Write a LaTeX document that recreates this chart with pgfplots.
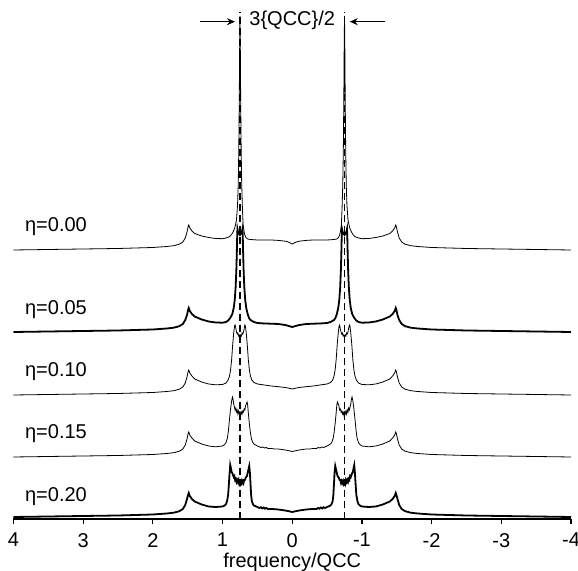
\documentclass[border=0pt]{standalone}
\usepackage{fontspec}
\setmainfont{Liberation Sans}
\usepackage{pgfplots}
\pgfplotsset{compat=1.18}
\usetikzlibrary{arrows.meta}
\begin{document}
\begin{tikzpicture}
\begin{axis}[
  scale only axis, width=278.75pt, height=259.5pt,
  xmin=-4, xmax=4, x dir=reverse, ymin=0, ymax=519,
  axis x line=bottom, axis y line=none,
  x axis line style={-, line width=0.8pt, black},
  xtick={-4,-3,...,4}, ytick=\empty,
  tick align=outside, major tick length=2.5pt,
  tick style={line width=0.6pt, black},
  xlabel={frequency/QCC},
  x label style={at={(axis description cs:0.5,0)}, anchor=base, yshift=-24.5pt},
  tick label style={font=\fontsize{10}{12}\selectfont, yshift=-1pt},
  label style={font=\fontsize{10}{12}\selectfont},
  /pgf/number format/assume math mode=true,
  clip=false,
  cycle list={{black, line width=0.9pt, no markers}},
]
% eta = 0.00
\addplot coordinates {
(4,269) (3,270) (2.5,270.5) (2,271.5) (1.8,272.5) (1.7,273.3) (1.62,274.8) (1.57,277) (1.535,281) (1.51,287) (1.495,292) (1.485,294) (1.47,291) (1.44,288) (1.4,285.5) (1.3,283) (1.2,281.5) (1.1,280.5) (1.0,280.3) (0.95,281) (0.9,282.3) (0.87,284.5) (0.85,287) (0.825,291) (0.8,299) (0.785,314) (0.775,334) (0.767,369) (0.76,419) (0.755,469) (0.75,503) (0.745,469) (0.74,419) (0.733,369) (0.725,334) (0.715,311) (0.705,294) (0.69,287) (0.68,284) (0.665,281.5) (0.64,280) (0.6,279.5) (0.5,279) (0.4,279) (0.3,279) (0.2,278.6) (0.1,277.8) (0.05,276.8) (0,275)
(-0.05,276.8) (-0.1,277.8) (-0.2,278.6) (-0.3,279) (-0.4,279) (-0.5,279) (-0.6,279.5) (-0.64,280) (-0.665,281.5) (-0.68,284) (-0.69,287) (-0.705,294) (-0.715,311) (-0.725,334) (-0.733,369) (-0.74,419) (-0.745,469) (-0.75,503) (-0.755,469) (-0.76,419) (-0.767,369) (-0.775,334) (-0.785,314) (-0.8,299) (-0.825,291) (-0.85,287) (-0.87,284.5) (-0.9,282.3) (-0.95,281) (-1.0,280.3) (-1.1,280.5) (-1.2,281.5) (-1.3,283) (-1.4,285.5) (-1.44,288) (-1.47,291) (-1.485,294) (-1.495,292) (-1.51,287) (-1.535,281) (-1.57,277) (-1.62,274.8) (-1.7,273.3) (-1.8,272.5) (-2,271.5) (-2.5,270.5) (-3,270) (-4,269)
};
% eta = 0.05
\addplot coordinates {
(4,187) (3,188) (2.5,188.5) (2,189.5) (1.8,190.5) (1.7,191.3) (1.62,192.8) (1.57,195) (1.535,199) (1.51,204) (1.495,209) (1.485,211) (1.47,208) (1.44,205) (1.4,202.5) (1.3,199.5) (1.2,197.5) (1.1,196.5) (1.0,196.3) (0.95,197) (0.92,198.5) (0.89,201) (0.86,205) (0.84,211) (0.825,219) (0.812,232) (0.802,249) (0.795,267) (0.79,283) (0.786,290) (0.78,288) (0.77,286) (0.76,285) (0.75,284) (0.74,285) (0.73,286) (0.72,288) (0.714,290) (0.71,283) (0.705,267) (0.698,249) (0.688,232) (0.675,219) (0.66,211) (0.64,205) (0.62,201) (0.6,199) (0.55,197) (0.5,196) (0.4,195.5) (0.3,195.3) (0.2,195) (0.1,194) (0.05,193) (0,192)
(-0.05,193) (-0.1,194) (-0.2,195) (-0.3,195.3) (-0.4,195.5) (-0.5,196) (-0.55,197) (-0.6,199) (-0.62,201) (-0.64,205) (-0.66,211) (-0.675,219) (-0.688,232) (-0.698,249) (-0.705,267) (-0.71,283) (-0.714,290) (-0.72,288) (-0.73,286) (-0.74,285) (-0.75,284) (-0.76,285) (-0.77,286) (-0.78,288) (-0.786,290) (-0.79,283) (-0.795,267) (-0.802,249) (-0.812,232) (-0.825,219) (-0.84,211) (-0.86,205) (-0.89,201) (-0.92,198.5) (-0.95,197) (-1.0,196.3) (-1.1,196.5) (-1.2,197.5) (-1.3,199.5) (-1.4,202.5) (-1.44,205) (-1.47,208) (-1.485,211) (-1.495,209) (-1.51,204) (-1.535,199) (-1.57,195) (-1.62,192.8) (-1.7,191.3) (-1.8,190.5) (-2,189.5) (-2.5,188.5) (-3,188) (-4,187)
};
% eta = 0.10
\addplot coordinates {
(4,124) (3,125) (2.5,125.5) (2,126.5) (1.8,127.5) (1.7,128.3) (1.62,129.8) (1.57,132) (1.535,136) (1.51,142) (1.495,147) (1.485,149) (1.47,146) (1.44,143) (1.4,140) (1.3,137) (1.2,135) (1.1,134.2) (1.0,134.5) (0.95,136) (0.92,139) (0.9,143) (0.885,149) (0.87,159) (0.855,174) (0.84,186) (0.828,193) (0.82,194) (0.81,191) (0.8,187) (0.79,185) (0.78,186) (0.77,183) (0.76,184) (0.75,182) (0.74,184) (0.73,183) (0.72,186) (0.71,185) (0.7,187) (0.69,190) (0.68,194) (0.672,193) (0.66,186) (0.645,174) (0.63,159) (0.615,149) (0.6,143) (0.58,139) (0.55,136.5) (0.5,135) (0.4,134) (0.3,133) (0.2,132.3) (0.1,131.5) (0.05,130.8) (0,130)
(-0.05,130.8) (-0.1,131.5) (-0.2,132.3) (-0.3,133) (-0.4,134) (-0.5,135) (-0.55,136.5) (-0.58,139) (-0.6,143) (-0.615,149) (-0.63,159) (-0.645,174) (-0.66,186) (-0.672,193) (-0.68,194) (-0.69,190) (-0.7,187) (-0.71,185) (-0.72,186) (-0.73,183) (-0.74,184) (-0.75,182) (-0.76,184) (-0.77,183) (-0.78,186) (-0.79,185) (-0.8,187) (-0.81,191) (-0.82,194) (-0.828,193) (-0.84,186) (-0.855,174) (-0.87,159) (-0.885,149) (-0.9,143) (-0.92,139) (-0.95,136) (-1.0,134.5) (-1.1,134.2) (-1.2,135) (-1.3,137) (-1.4,140) (-1.44,143) (-1.47,146) (-1.485,149) (-1.495,147) (-1.51,142) (-1.535,136) (-1.57,132) (-1.62,129.8) (-1.7,128.3) (-1.8,127.5) (-2,126.5) (-2.5,125.5) (-3,125) (-4,124)
};
% eta = 0.15
\addplot coordinates {
(4,62) (3,63) (2.5,63.5) (2,64.5) (1.8,65.5) (1.7,66.3) (1.62,67.8) (1.57,70) (1.535,74) (1.51,80) (1.495,85) (1.485,87) (1.47,84) (1.44,81) (1.4,78) (1.3,75) (1.2,73) (1.1,72.2) (1.0,73) (0.97,74.5) (0.95,76.5) (0.93,81) (0.915,89) (0.9,100) (0.885,110) (0.87,118) (0.858,122) (0.85,120) (0.84,115) (0.83,112) (0.82,109) (0.81,111) (0.8,107) (0.79,109) (0.78,105) (0.77,108) (0.76,105) (0.75,107) (0.74,104) (0.73,107) (0.72,105) (0.71,108) (0.7,107) (0.69,110) (0.68,109) (0.67,113) (0.66,115) (0.648,117) (0.64,114) (0.63,106) (0.615,95) (0.6,86) (0.585,80) (0.57,77) (0.55,75) (0.5,73) (0.45,71.5) (0.42,72) (0.4,71) (0.37,71.5) (0.35,70.5) (0.3,70.5) (0.25,70) (0.2,70) (0.15,69.5) (0.1,69) (0.05,68.3) (0,67.5)
(-0.05,68.3) (-0.1,69) (-0.15,69.5) (-0.2,70) (-0.25,70) (-0.3,70.5) (-0.35,70.5) (-0.37,71.5) (-0.4,71) (-0.42,72) (-0.45,71.5) (-0.5,73) (-0.55,75) (-0.57,77) (-0.585,80) (-0.6,86) (-0.615,95) (-0.63,106) (-0.64,114) (-0.648,117) (-0.66,115) (-0.67,113) (-0.68,109) (-0.69,110) (-0.7,107) (-0.71,108) (-0.72,105) (-0.73,107) (-0.74,104) (-0.75,107) (-0.76,105) (-0.77,108) (-0.78,105) (-0.79,109) (-0.8,107) (-0.81,111) (-0.82,109) (-0.83,112) (-0.84,115) (-0.85,120) (-0.858,122) (-0.87,118) (-0.885,110) (-0.9,100) (-0.915,89) (-0.93,81) (-0.95,76.5) (-0.97,74.5) (-1.0,73) (-1.1,72.2) (-1.2,73) (-1.3,75) (-1.4,78) (-1.44,81) (-1.47,84) (-1.485,87) (-1.495,85) (-1.51,80) (-1.535,74) (-1.57,70) (-1.62,67.8) (-1.7,66.3) (-1.8,65.5) (-2,64.5) (-2.5,63.5) (-3,63) (-4,62)
};
% eta = 0.20
\addplot coordinates {
(4,2) (3,3) (2.5,3.5) (2,4.5) (1.8,5.5) (1.7,6.3) (1.62,7.8) (1.57,10) (1.535,14) (1.51,20) (1.495,24) (1.485,26) (1.47,23) (1.44,20) (1.4,17.5) (1.3,14.5) (1.2,12.5) (1.1,12) (1.0,12.5) (0.97,13.5) (0.95,15) (0.935,18) (0.92,24) (0.91,34) (0.9,45) (0.89,54) (0.88,51) (0.87,47) (0.86,46) (0.85,44) (0.84,42) (0.83,43) (0.82,39) (0.81,40) (0.8,37) (0.79,39) (0.78,37) (0.77,39) (0.76,35) (0.75,37) (0.74,35) (0.73,38) (0.72,36) (0.71,38) (0.7,36) (0.69,39) (0.68,39) (0.67,41) (0.66,42) (0.65,43) (0.64,46) (0.63,49) (0.617,53) (0.607,46) (0.598,34) (0.59,24) (0.58,18) (0.565,15) (0.55,13.5) (0.5,12) (0.47,11) (0.45,11.8) (0.43,10.5) (0.41,11.5) (0.39,10.3) (0.37,11) (0.35,10) (0.3,10) (0.25,9.8) (0.2,9.5) (0.15,9) (0.1,8.5) (0.05,7.8) (0,7)
(-0.05,7.8) (-0.1,8.5) (-0.15,9) (-0.2,9.5) (-0.25,9.8) (-0.3,10) (-0.35,10) (-0.37,11) (-0.39,10.3) (-0.41,11.5) (-0.43,10.5) (-0.45,11.8) (-0.47,11) (-0.5,12) (-0.55,13.5) (-0.565,15) (-0.58,18) (-0.59,24) (-0.598,34) (-0.607,46) (-0.617,53) (-0.63,49) (-0.64,46) (-0.65,43) (-0.66,42) (-0.67,41) (-0.68,39) (-0.69,39) (-0.7,36) (-0.71,38) (-0.72,36) (-0.73,38) (-0.74,35) (-0.75,37) (-0.76,35) (-0.77,39) (-0.78,37) (-0.79,39) (-0.8,37) (-0.81,40) (-0.82,39) (-0.83,43) (-0.84,42) (-0.85,44) (-0.86,46) (-0.87,47) (-0.88,51) (-0.89,54) (-0.9,45) (-0.91,34) (-0.92,24) (-0.935,18) (-0.95,15) (-0.97,13.5) (-1.0,12.5) (-1.1,12) (-1.2,12.5) (-1.3,14.5) (-1.4,17.5) (-1.44,20) (-1.47,23) (-1.485,26) (-1.495,24) (-1.51,20) (-1.535,14) (-1.57,10) (-1.62,7.8) (-1.7,6.3) (-1.8,5.5) (-2,4.5) (-2.5,3.5) (-3,3) (-4,2)
};
% dashed markers at +-3QCC/4
\addplot[line width=0.7pt, dash pattern=on 3.5pt off 2pt] coordinates {(0.75,0) (0.75,507)};
\addplot[line width=0.7pt, dash pattern=on 3.5pt off 2pt] coordinates {(-0.75,0) (-0.75,507)};

\node[anchor=base, font=\fontsize{10}{12}\selectfont] at (axis cs:0,493) {3\{QCC\}/2};
\draw[-{Stealth[length=4pt,width=3.5pt]}, line width=0.6pt] (axis cs:1.324,497.3) -- (axis cs:0.822,497.3);
\draw[-{Stealth[length=4pt,width=3.5pt]}, line width=0.6pt] (axis cs:-1.327,497.3) -- (axis cs:-0.825,497.3);

\node[anchor=base west, font=\fontsize{10}{12}\selectfont] at (axis cs:3.935,287) {η=0.00};
\node[anchor=base west, font=\fontsize{10}{12}\selectfont] at (axis cs:3.935,204) {η=0.05};
\node[anchor=base west, font=\fontsize{10}{12}\selectfont] at (axis cs:3.935,142) {η=0.10};
\node[anchor=base west, font=\fontsize{10}{12}\selectfont] at (axis cs:3.935,80) {η=0.15};
\node[anchor=base west, font=\fontsize{10}{12}\selectfont] at (axis cs:3.935,17.3) {η=0.20};
\end{axis}
\pgfresetboundingbox
\path ([shift={(-6.75pt,-26pt)}]current axis.south west) rectangle ([shift={(3.5pt,0pt)}]current axis.north east);
\end{tikzpicture}
\end{document}
